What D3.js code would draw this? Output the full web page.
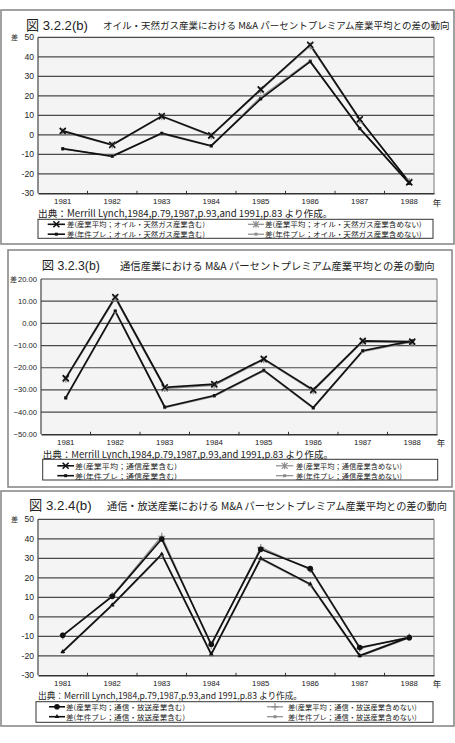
<!DOCTYPE html>
<html><head><meta charset="utf-8">
<script src="https://cdn.jsdelivr.net/npm/d3@7"></script>
<style>
html,body{margin:0;padding:0;background:#fff;}
svg{display:block;}
text{font-family:"Liberation Sans","Noto Sans CJK JP",sans-serif;fill:#222;}
text.jp{font-family:"Noto Sans CJK JP","Liberation Sans",sans-serif;}
</style></head>
<body>
<svg id="c" width="455" height="743"></svg>
<script>
// ---------- data ----------
const years = ["1981","1982","1983","1984","1985","1986","1987","1988"];

const oilTicks = [50,40,30,20,10,0,-10,-20,-30];
const oilAvgIncl  = [2.0, -5.1, 9.6, -0.3, 23.3, 46.2, 8.0, -24.4];
const oilAvgExcl  = [1.6, -5.4, 9.3, -0.6, 22.8, 45.6, 7.5, -24.0];
const oilDealIncl = [-7.1, -11.0, 0.8, -5.6, 18.4, 37.5, 3.3, -24.9];
const oilDealExcl = [-7.4, -10.7, 0.5, -5.9, 19.4, 38.0, 3.0, -24.5];

const telTicks = [20,10,0,-10,-20,-30,-40,-50];
const telAvgIncl  = [-24.7, 11.9, -28.8, -27.4, -16.0, -30.0, -7.9, -8.2];
const telAvgExcl  = [-25.2, 11.3, -29.4, -27.9, -16.4, -30.4, -8.3, -8.8];
const telDealIncl = [-33.5, 5.6, -37.7, -32.5, -21.1, -38.0, -12.3, -7.9];
const telDealExcl = [-33.8, 5.2, -38.0, -32.9, -21.5, -38.3, -12.7, -8.3];

const bcTicks = [50,40,30,20,10,0,-10,-20,-30];
const bcAvgIncl  = [-9.5, 10.5, 39.9, -14.1, 34.6, 24.7, -15.8, -10.7];
const bcAvgExcl  = [-9.8, 10.9, 41.3, -14.8, 35.6, 24.2, -16.3, -10.3];
const bcDealIncl = [-17.9, 6.1, 32.1, -19.1, 30.0, 16.8, -19.9, -10.4];
const bcDealExcl = [-18.2, 5.8, 31.7, -19.6, 29.5, 16.3, -20.3, -10.8];

const sourceText = "出典：Merrill Lynch,1984,p.79,1987,p.93,and 1991,p.83 より作成。";

// ---------- drawing ----------
const svg = d3.select("#c");

// place text and scale its font so that its natural width equals target width;
// if that size exceeds maxSize, use maxSize and stretch to the target width
function fitText(g, cls, x, y, target, base, str, maxSize){
  const t = g.append("text").attr("x",x).attr("y",y).attr("dominant-baseline","central")
    .style("font-size",base+"px").text(str);
  if(cls) t.attr("class",cls);
  const w = t.node().getComputedTextLength();
  if(w>0){
    let fs = base*target/w;
    if(maxSize && fs>maxSize){
      fs = maxSize;
      t.attr("textLength",target).attr("lengthAdjust","spacingAndGlyphs");
    }
    t.style("font-size",fs.toFixed(2)+"px");
  }
  return t;
}

function marker(g, type, x, y, color){
  if(type==="x"){
    const s=3;
    g.append("path").attr("d",`M${x-s},${y-s}L${x+s},${y+s}M${x-s},${y+s}L${x+s},${y-s}`)
      .attr("stroke",color).attr("stroke-width",1.6).attr("fill","none");
  } else if(type==="ast"){
    const s=3;
    g.append("path").attr("d",`M${x-s},${y-s}L${x+s},${y+s}M${x-s},${y+s}L${x+s},${y-s}M${x},${y-s-0.5}L${x},${y+s+0.5}`)
      .attr("stroke",color).attr("stroke-width",1.2).attr("fill","none");
  } else if(type==="sq"){
    g.append("rect").attr("x",x-1.5).attr("y",y-1.5).attr("width",3).attr("height",3).attr("fill",color);
  } else if(type==="circle"){
    g.append("circle").attr("cx",x).attr("cy",y).attr("r",2.8).attr("fill",color);
  } else if(type==="plus"){
    const s=3.5;
    g.append("path").attr("d",`M${x-s},${y}L${x+s},${y}M${x},${y-s}L${x},${y+s}`)
      .attr("stroke",color).attr("stroke-width",1.2).attr("fill","none");
  } else if(type==="tri"){
    g.append("path").attr("transform",`translate(${x},${y})`)
      .attr("d",d3.symbol(d3.symbolTriangle,10)()).attr("fill",color);
  }
}

function panel(cfg){
  const g = svg.append("g");
  // outer frame
  g.append("rect").attr("x",cfg.box[0]).attr("y",cfg.box[1]).attr("width",cfg.box[2]).attr("height",cfg.box[3])
    .attr("fill","#fff").attr("stroke","#8a8a8a").attr("stroke-width",1.6);

  const x = d3.scaleBand().domain(years).range([cfg.px0,cfg.px1]).padding(0);
  const y = d3.scaleLinear().domain(cfg.domain).range([cfg.py1,cfg.py0]);
  const cx = d => x(d)+x.bandwidth()/2;

  // plot bg
  g.append("rect").attr("x",cfg.px0).attr("y",cfg.py0).attr("width",cfg.px1-cfg.px0).attr("height",cfg.py1-cfg.py0)
    .attr("fill","#f4f4f4");
  // gridlines
  g.selectAll(null).data(cfg.ticks.filter(t=>t!==cfg.domain[0])).enter().append("line")
    .attr("x1",cfg.px0).attr("x2",cfg.px1).attr("y1",d=>y(d)).attr("y2",d=>y(d))
    .attr("stroke","#4a4a4a").attr("stroke-width",1.2);
  // border right
  g.append("line").attr("x1",cfg.px1).attr("x2",cfg.px1).attr("y1",cfg.py0).attr("y2",cfg.py1)
    .attr("stroke","#777").attr("stroke-width",1);
  // left axis
  g.append("line").attr("x1",cfg.px0).attr("x2",cfg.px0).attr("y1",cfg.py0).attr("y2",cfg.py1)
    .attr("stroke","#444").attr("stroke-width",1.2);
  // bottom axis
  const xAxis = d3.axisBottom(x).tickSize(0).tickFormat(d=>d);
  const ax = g.append("g").attr("transform",`translate(0,${cfg.py1})`).call(xAxis);
  ax.select(".domain").attr("stroke","#333").attr("stroke-width",1.4);
  ax.selectAll("text").attr("dy",null).attr("y",cfg.xLabY-cfg.py1).attr("dominant-baseline","central")
    .style("font-size","7.8px").style("font-family","'Liberation Sans',sans-serif").attr("fill","#222");
  // band boundary ticks
  g.selectAll(null).data(years.slice(1)).enter().append("line")
    .attr("x1",d=>x(d)).attr("x2",d=>x(d)).attr("y1",cfg.py1-2.5).attr("y2",cfg.py1+1)
    .attr("stroke","#333").attr("stroke-width",1);
  // y tick labels
  g.selectAll(null).data(cfg.ticks).enter().append("text")
    .attr("x",cfg.yLabX).attr("y",d=>y(d)).attr("text-anchor","end").attr("dominant-baseline","central")
    .style("font-size",cfg.yFont+"px").text(cfg.fmt);
  // 差 label
  g.append("text").attr("class","jp").attr("x",cfg.saX).attr("y",cfg.saY).attr("dominant-baseline","central")
    .style("font-size","7px").text("差");
  // 年 label
  g.append("text").attr("class","jp").attr("x",cfg.nenX).attr("y",cfg.xLabY).attr("text-anchor","middle")
    .attr("dominant-baseline","central").style("font-size","8.5px").text("年");
  // title
  fitText(g,null,cfg.t1[0],cfg.tY,cfg.t1[1]-cfg.t1[0],13,cfg.titleA);
  fitText(g,"jp",cfg.t2[0],cfg.tY,cfg.t2[1]-cfg.t2[0],10,cfg.titleB);
  // source
  fitText(g,"jp",cfg.src[0],cfg.src[2],cfg.src[1]-cfg.src[0],8,sourceText);

  // series lines
  const line = d3.line().x((d,i)=>cx(years[i])).y(d=>y(d));
  const order = [1,3,0,2]; // gray first
  order.forEach(k=>{
    const s = cfg.series[k];
    g.append("path").datum(s.values).attr("d",line).attr("fill","none")
      .attr("stroke",s.color).attr("stroke-width",s.gray?1.3:1.7).attr("stroke-linejoin","miter");
  });
  order.forEach(k=>{
    const s = cfg.series[k];
    s.values.forEach((v,i)=>marker(g,s.marker,cx(years[i]),y(v),s.color));
  });

  // legend
  const L = cfg.leg;
  g.append("rect").attr("x",L.x0).attr("y",L.y0).attr("width",L.x1-L.x0).attr("height",L.y1-L.y0)
    .attr("fill","#fff").attr("stroke","#333").attr("stroke-width",1);
  const maxFs = (L.r2-L.r1)/1.45 - 0.08;
  const pos = [
    {lx:L.ll, tx:L.lt, tw:L.ltw, ry:L.r1},
    {lx:L.rl, tx:L.rt, tw:L.rtw, ry:L.r1},
    {lx:L.ll, tx:L.lt, tw:L.ltw2, ry:L.r2},
    {lx:L.rl, tx:L.rt, tw:L.rtw2, ry:L.r2}
  ];
  [0,1,2,3].forEach((k,j)=>{
    const s = cfg.series[k], p = pos[j];
    g.append("line").attr("x1",p.lx[0]).attr("x2",p.lx[1]).attr("y1",p.ry).attr("y2",p.ry)
      .attr("stroke",s.color).attr("stroke-width",s.gray?1.2:1.6);
    marker(g,s.marker,(p.lx[0]+p.lx[1])/2,p.ry,s.color);
    fitText(g,"jp",p.tx,p.ry,p.tw,6,s.name,maxFs);
  });
}

const BLACK="#111", GRAY="#8c8c8c";

panel({
  box:[1,10,453,234],
  px0:38, px1:434, py0:37.3, py1:193.3, domain:[-30,50], ticks:oilTicks, fmt:d=>d, yFont:8.6,
  yLabX:34, saX:11, saY:37, xLabY:201.7, nenX:437,
  tY:25, t1:[26,88], t2:[103,450],
  titleA:"図 3.2.2(b)", titleB:"オイル・天然ガス産業における M&A パーセントプレミアム産業平均との差の動向",
  src:[38,333,213.3],
  series:[
    {name:"差(産業平均；オイル・天然ガス産業含む)", values:oilAvgIncl, color:BLACK, marker:"x"},
    {name:"差(産業平均；オイル・天然ガス産業含めない)", values:oilAvgExcl, color:GRAY, gray:true, marker:"ast"},
    {name:"差(年件プレ；オイル・天然ガス産業含む)", values:oilDealIncl, color:BLACK, marker:"sq"},
    {name:"差(年件プレ；オイル・天然ガス産業含めない)", values:oilDealExcl, color:GRAY, gray:true, marker:"sq"}
  ],
  leg:{x0:38,x1:433,y0:219.3,y1:238.3,r1:224.3,r2:234.2, ll:[47.7,65], lt:67, ltw:138, ltw2:138,
       rl:[248,264], rt:265, rtw:156.7, rtw2:156.7}
});

panel({
  box:[8,250,444,237],
  px0:41, px1:437, py0:279, py1:434.3, domain:[-50,20], ticks:telTicks, fmt:d=>d3.format(".2f")(d), yFont:7.6,
  yLabX:37, saX:10, saY:279, xLabY:442.2, nenX:441,
  tY:265.7, t1:[41.7,100], t2:[120,435],
  titleA:"図 3.2.3(b)", titleB:"通信産業における M&A パーセントプレミアム産業平均との差の動向",
  src:[42.7,333,453.5],
  series:[
    {name:"差(産業平均；通信産業含む)", values:telAvgIncl, color:BLACK, marker:"x"},
    {name:"差(産業平均；通信産業含めない)", values:telAvgExcl, color:GRAY, gray:true, marker:"ast"},
    {name:"差(年件プレ；通信産業含む)", values:telDealIncl, color:BLACK, marker:"sq"},
    {name:"差(年件プレ；通信産業含めない)", values:telDealExcl, color:GRAY, gray:true, marker:"sq"}
  ],
  leg:{x0:42.7,x1:437.7,y0:459.3,y1:480,r1:465.8,r2:475.7, ll:[57.3,74], lt:75, ltw:102, ltw2:102,
       rl:[276,293.3], rt:296, rtw:106, rtw2:106}
});

panel({
  box:[1,491,453,235],
  px0:38, px1:434, py0:519.3, py1:675.3, domain:[-30,50], ticks:bcTicks, fmt:d=>d, yFont:8.6,
  yLabX:34, saX:11, saY:519, xLabY:683.3, nenX:437,
  tY:505, t1:[29,91.7], t2:[107,447],
  titleA:"図 3.2.4(b)", titleB:"通信・放送産業における M&A パーセントプレミアム産業平均との差の動向",
  src:[38,302,695],
  series:[
    {name:"差(産業平均；通信・放送産業含む)", values:bcAvgIncl, color:BLACK, marker:"circle"},
    {name:"差(産業平均；通信・放送産業含めない)", values:bcAvgExcl, color:GRAY, gray:true, marker:"plus"},
    {name:"差(年件プレ；通信・放送産業含む)", values:bcDealIncl, color:BLACK, marker:"tri"},
    {name:"差(年件プレ；通信・放送産業含めない)", values:bcDealExcl, color:GRAY, gray:true, marker:"sq"}
  ],
  leg:{x0:36,x1:433,y0:701.7,y1:722.3,r1:706.8,r2:716.7, ll:[49,65], lt:66, ltw:119, ltw2:119,
       rl:[267,283], rt:288, rtw:128.7, rtw2:128.7}
});
</script>
</body></html>
